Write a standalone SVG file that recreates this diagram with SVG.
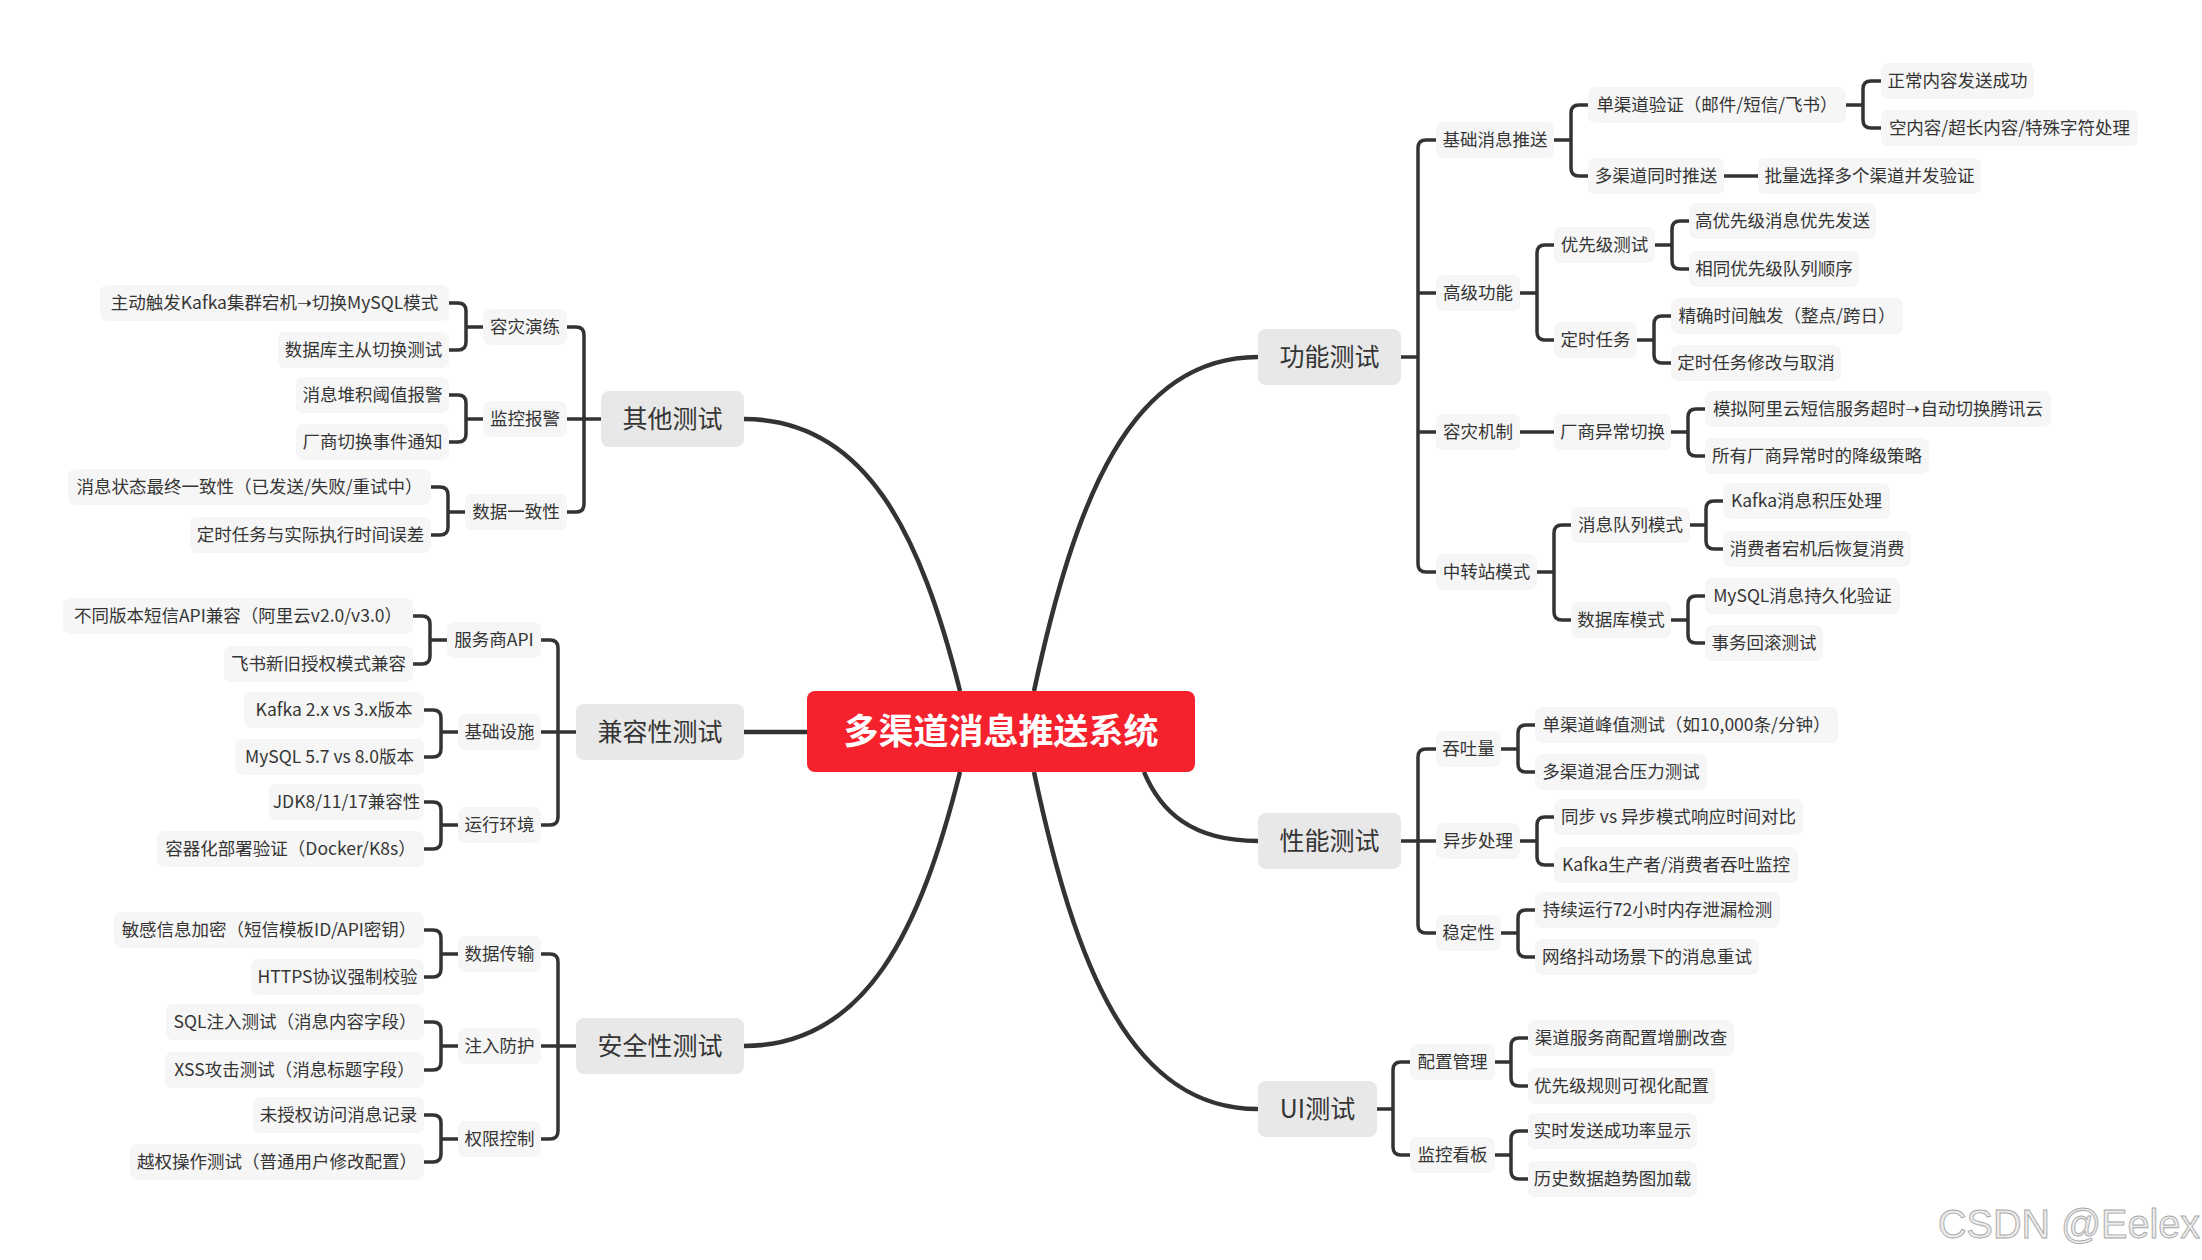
<svg xmlns="http://www.w3.org/2000/svg" width="2202" height="1260" viewBox="0 0 2202 1260">
<style>
text{font-family:"Noto Sans CJK SC","Noto Sans",sans-serif;fill:#353535;text-anchor:middle}
.s rect{fill:#f6f6f6}
.s text{font-size:17.5px}
.m rect{fill:#e8e8e8}
.m text{font-size:25px}
.r rect{fill:#f5222d}
.r text{font-size:35px;font-weight:700;fill:#fff}
#conn path{fill:none;stroke:#333;stroke-width:3.5;stroke-linecap:butt}
#conn path.k{stroke-width:4.5}
.wm{font-family:"Liberation Sans",Arial,sans-serif;font-size:40px;fill:#ececec;stroke:#a8a8a8;stroke-width:0.9;text-anchor:start}
</style>
<rect width="2202" height="1260" fill="#fff"/>
<g id="conn">
<path class="k" d="M1034,691 C1075,500 1130,357 1258,357"/>
<path class="k" d="M960,691 C921,536 867,419 744,419"/>
<path class="k" d="M1034,772 C1075,965 1130,1109 1258,1109"/>
<path class="k" d="M960,772 C921,928 867,1046 744,1046"/>
<path class="k" d="M1144,772 C1160,810 1190,841 1258,841"/>
<path class="k" d="M807,732 H744"/>
<path d="M1401,357 H1418"/>
<path d="M1436,140 H1426 Q1418,140 1418,148 V564 Q1418,572 1426,572 H1436"/>
<path d="M1418,293 H1436 M1418,432 H1436"/>
<path d="M1554,140 H1571 M1588,105 H1579 Q1571,105 1571,113 V168 Q1571,176 1579,176 H1588"/>
<path d="M1846,105 H1863 M1881,81 H1871 Q1863,81 1863,89 V120 Q1863,128 1871,128 H1881"/>
<path d="M1724,176 H1758"/>
<path d="M1520,293 H1537 M1554,245 H1545 Q1537,245 1537,253 V332 Q1537,340 1545,340 H1554"/>
<path d="M1655,245 H1672 M1689,221 H1680 Q1672,221 1672,229 V261 Q1672,269 1680,269 H1689"/>
<path d="M1637,340 H1654 M1671,316 H1662 Q1654,316 1654,324 V355 Q1654,363 1662,363 H1671"/>
<path d="M1520,432 H1554"/>
<path d="M1671,432 H1688 M1705,409 H1696 Q1688,409 1688,417 V448 Q1688,456 1696,456 H1705"/>
<path d="M1537,572 H1554 M1571,525 H1562 Q1554,525 1554,533 V612 Q1554,620 1562,620 H1571"/>
<path d="M1690,525 H1706 M1723,501 H1714 Q1706,501 1706,509 V541 Q1706,549 1714,549 H1723"/>
<path d="M1671,620 H1688 M1705,596 H1696 Q1688,596 1688,604 V635 Q1688,643 1696,643 H1705"/>
<path d="M1401,841 H1436 M1436,749 H1426 Q1418,749 1418,757 V925 Q1418,933 1426,933 H1436"/>
<path d="M1501,749 H1518 M1535,725 H1526 Q1518,725 1518,733 V764 Q1518,772 1526,772 H1535"/>
<path d="M1520,841 H1537 M1554,817 H1545 Q1537,817 1537,825 V857 Q1537,865 1545,865 H1554"/>
<path d="M1501,933 H1518 M1535,910 H1526 Q1518,910 1518,918 V949 Q1518,957 1526,957 H1535"/>
<path d="M1377,1109 H1393 M1410,1062 H1401 Q1393,1062 1393,1070 V1147 Q1393,1155 1401,1155 H1410"/>
<path d="M1495,1062 H1511 M1528,1038 H1519 Q1511,1038 1511,1046 V1078 Q1511,1086 1519,1086 H1528"/>
<path d="M1495,1155 H1511 M1528,1131 H1519 Q1511,1131 1511,1139 V1171 Q1511,1179 1519,1179 H1528"/>
<path d="M601,419 H567 M567,327 H576 Q584,327 584,335 V504 Q584,512 576,512 H567"/>
<path d="M483,327 H466 M449,303 H458 Q466,303 466,311 V342 Q466,350 458,350 H449"/>
<path d="M483,419 H466 M449,395 H458 Q466,395 466,403 V434 Q466,442 458,442 H449"/>
<path d="M465,512 H448 M431,487 H440 Q448,487 448,495 V527 Q448,535 440,535 H431"/>
<path d="M576,732 H541 M541,640 H550 Q558,640 558,648 V817 Q558,825 550,825 H541"/>
<path d="M447,640 H430 M413,616 H422 Q430,616 430,624 V656 Q430,664 422,664 H413"/>
<path d="M458,732 H441 M424,710 H433 Q441,710 441,718 V749 Q441,757 433,757 H424"/>
<path d="M458,825 H441 M424,802 H433 Q441,802 441,810 V841 Q441,849 433,849 H424"/>
<path d="M576,1046 H541 M541,954 H550 Q558,954 558,962 V1131 Q558,1139 550,1139 H541"/>
<path d="M458,954 H441 M424,930 H433 Q441,930 441,938 V969 Q441,977 433,977 H424"/>
<path d="M458,1046 H441 M424,1022 H433 Q441,1022 441,1030 V1062 Q441,1070 433,1070 H424"/>
<path d="M458,1139 H441 M424,1115 H433 Q441,1115 441,1123 V1154 Q441,1162 433,1162 H424"/>
</g>
<g id="root" class="r"><rect x="807" y="691" width="388" height="81" rx="8"/><text x="1001" y="744">多渠道消息推送系统</text></g>
<g id="m-func" class="m"><rect x="1258" y="329" width="143" height="56" rx="8"/><text x="1329.5" y="366">功能测试</text></g>
<g id="m-perf" class="m"><rect x="1258" y="813" width="143" height="56" rx="8"/><text x="1329.5" y="850">性能测试</text></g>
<g id="m-ui" class="m"><rect x="1258" y="1081" width="119" height="56" rx="8"/><text x="1317.5" y="1118">UI测试</text></g>
<g id="m-other" class="m"><rect x="601" y="391" width="143" height="56" rx="8"/><text x="672.5" y="428">其他测试</text></g>
<g id="m-compat" class="m"><rect x="576" y="704" width="168" height="56" rx="8"/><text x="660" y="741">兼容性测试</text></g>
<g id="m-sec" class="m"><rect x="576" y="1018" width="168" height="56" rx="8"/><text x="660" y="1055">安全性测试</text></g>
<g id="f1" class="s"><rect x="1436" y="122" width="118" height="36" rx="7"/><text x="1495" y="146">基础消息推送</text></g>
<g id="f1a" class="s"><rect x="1588" y="87" width="258" height="36" rx="7"/><text x="1717" y="111">单渠道验证（邮件/短信/飞书）</text></g>
<g id="f1a1" class="s"><rect x="1881" y="63" width="153" height="36" rx="7"/><text x="1957.5" y="87">正常内容发送成功</text></g>
<g id="f1a2" class="s"><rect x="1881" y="110" width="257" height="36" rx="7"/><text x="2009.5" y="134">空内容/超长内容/特殊字符处理</text></g>
<g id="f1b" class="s"><rect x="1588" y="158" width="136" height="36" rx="7"/><text x="1656" y="182">多渠道同时推送</text></g>
<g id="f1b1" class="s"><rect x="1758" y="158" width="223" height="36" rx="7"/><text x="1869.5" y="182">批量选择多个渠道并发验证</text></g>
<g id="f2" class="s"><rect x="1436" y="275" width="84" height="36" rx="7"/><text x="1478" y="299">高级功能</text></g>
<g id="f2a" class="s"><rect x="1554" y="227" width="101" height="36" rx="7"/><text x="1604.5" y="251">优先级测试</text></g>
<g id="f2a1" class="s"><rect x="1689" y="203" width="187" height="36" rx="7"/><text x="1782.5" y="227">高优先级消息优先发送</text></g>
<g id="f2a2" class="s"><rect x="1689" y="251" width="170" height="36" rx="7"/><text x="1774" y="275">相同优先级队列顺序</text></g>
<g id="f2b" class="s"><rect x="1554" y="322" width="83" height="36" rx="7"/><text x="1595.5" y="346">定时任务</text></g>
<g id="f2b1" class="s"><rect x="1671" y="298" width="232" height="36" rx="7"/><text x="1787" y="322">精确时间触发（整点/跨日）</text></g>
<g id="f2b2" class="s"><rect x="1671" y="345" width="170" height="36" rx="7"/><text x="1756" y="369">定时任务修改与取消</text></g>
<g id="f3" class="s"><rect x="1436" y="414" width="84" height="36" rx="7"/><text x="1478" y="438">容灾机制</text></g>
<g id="f3a" class="s"><rect x="1554" y="414" width="117" height="36" rx="7"/><text x="1612.5" y="438">厂商异常切换</text></g>
<g id="f3a1" class="s"><rect x="1705" y="391" width="346" height="36" rx="7"/><text x="1878" y="415">模拟阿里云短信服务超时➝自动切换腾讯云</text></g>
<g id="f3a2" class="s"><rect x="1705" y="438" width="224" height="36" rx="7"/><text x="1817" y="462">所有厂商异常时的降级策略</text></g>
<g id="f4" class="s"><rect x="1436" y="554" width="101" height="36" rx="7"/><text x="1486.5" y="578">中转站模式</text></g>
<g id="f4a" class="s"><rect x="1571" y="507" width="119" height="36" rx="7"/><text x="1630.5" y="531">消息队列模式</text></g>
<g id="f4a1" class="s"><rect x="1723" y="483" width="167" height="36" rx="7"/><text x="1806.5" y="507">Kafka消息积压处理</text></g>
<g id="f4a2" class="s"><rect x="1723" y="531" width="188" height="36" rx="7"/><text x="1817" y="555">消费者宕机后恢复消费</text></g>
<g id="f4b" class="s"><rect x="1571" y="602" width="100" height="36" rx="7"/><text x="1621" y="626">数据库模式</text></g>
<g id="f4b1" class="s"><rect x="1705" y="578" width="195" height="36" rx="7"/><text x="1802.5" y="602">MySQL消息持久化验证</text></g>
<g id="f4b2" class="s"><rect x="1705" y="625" width="118" height="36" rx="7"/><text x="1764" y="649">事务回滚测试</text></g>
<g id="p1" class="s"><rect x="1436" y="731" width="65" height="36" rx="7"/><text x="1468.5" y="755">吞吐量</text></g>
<g id="p1a" class="s"><rect x="1535" y="707" width="303" height="36" rx="7"/><text x="1686.5" y="731">单渠道峰值测试（如10,000条/分钟）</text></g>
<g id="p1b" class="s"><rect x="1535" y="754" width="172" height="36" rx="7"/><text x="1621" y="778">多渠道混合压力测试</text></g>
<g id="p2" class="s"><rect x="1436" y="823" width="84" height="36" rx="7"/><text x="1478" y="847">异步处理</text></g>
<g id="p2a" class="s"><rect x="1554" y="799" width="249" height="36" rx="7"/><text x="1678.5" y="823">同步 vs 异步模式响应时间对比</text></g>
<g id="p2b" class="s"><rect x="1554" y="847" width="244" height="36" rx="7"/><text x="1676" y="871">Kafka生产者/消费者吞吐监控</text></g>
<g id="p3" class="s"><rect x="1436" y="915" width="65" height="36" rx="7"/><text x="1468.5" y="939">稳定性</text></g>
<g id="p3a" class="s"><rect x="1535" y="892" width="245" height="36" rx="7"/><text x="1657.5" y="916">持续运行72小时内存泄漏检测</text></g>
<g id="p3b" class="s"><rect x="1535" y="939" width="224" height="36" rx="7"/><text x="1647" y="963">网络抖动场景下的消息重试</text></g>
<g id="u1" class="s"><rect x="1410" y="1044" width="85" height="36" rx="7"/><text x="1452.5" y="1068">配置管理</text></g>
<g id="u1a" class="s"><rect x="1528" y="1020" width="206" height="36" rx="7"/><text x="1631" y="1044">渠道服务商配置增删改查</text></g>
<g id="u1b" class="s"><rect x="1528" y="1068" width="187" height="36" rx="7"/><text x="1621.5" y="1092">优先级规则可视化配置</text></g>
<g id="u2" class="s"><rect x="1410" y="1137" width="85" height="36" rx="7"/><text x="1452.5" y="1161">监控看板</text></g>
<g id="u2a" class="s"><rect x="1528" y="1113" width="169" height="36" rx="7"/><text x="1612.5" y="1137">实时发送成功率显示</text></g>
<g id="u2b" class="s"><rect x="1528" y="1161" width="169" height="36" rx="7"/><text x="1612.5" y="1185">历史数据趋势图加载</text></g>
<g id="o1" class="s"><rect x="483" y="309" width="84" height="36" rx="7"/><text x="525" y="333">容灾演练</text></g>
<g id="o1a" class="s"><rect x="100" y="285" width="349" height="36" rx="7"/><text x="274.5" y="309">主动触发Kafka集群宕机➝切换MySQL模式</text></g>
<g id="o1b" class="s"><rect x="278" y="332" width="171" height="36" rx="7"/><text x="363.5" y="356">数据库主从切换测试</text></g>
<g id="o2" class="s"><rect x="483" y="401" width="84" height="36" rx="7"/><text x="525" y="425">监控报警</text></g>
<g id="o2a" class="s"><rect x="296" y="377" width="153" height="36" rx="7"/><text x="372.5" y="401">消息堆积阈值报警</text></g>
<g id="o2b" class="s"><rect x="296" y="424" width="153" height="36" rx="7"/><text x="372.5" y="448">厂商切换事件通知</text></g>
<g id="o3" class="s"><rect x="465" y="494" width="102" height="36" rx="7"/><text x="516" y="518">数据一致性</text></g>
<g id="o3a" class="s"><rect x="68" y="469" width="363" height="36" rx="7"/><text x="249.5" y="493">消息状态最终一致性（已发送/失败/重试中）</text></g>
<g id="o3b" class="s"><rect x="190" y="517" width="241" height="36" rx="7"/><text x="310.5" y="541">定时任务与实际执行时间误差</text></g>
<g id="c1" class="s"><rect x="447" y="622" width="94" height="36" rx="7"/><text x="494" y="646">服务商API</text></g>
<g id="c1a" class="s"><rect x="63" y="598" width="350" height="36" rx="7"/><text x="238" y="622">不同版本短信API兼容（阿里云v2.0/v3.0）</text></g>
<g id="c1b" class="s"><rect x="224" y="646" width="189" height="36" rx="7"/><text x="318.5" y="670">飞书新旧授权模式兼容</text></g>
<g id="c2" class="s"><rect x="458" y="714" width="83" height="36" rx="7"/><text x="499.5" y="738">基础设施</text></g>
<g id="c2a" class="s"><rect x="244" y="692" width="180" height="36" rx="7"/><text x="334" y="716">Kafka 2.x vs 3.x版本</text></g>
<g id="c2b" class="s"><rect x="235" y="739" width="189" height="36" rx="7"/><text x="329.5" y="763">MySQL 5.7 vs 8.0版本</text></g>
<g id="c3" class="s"><rect x="458" y="807" width="83" height="36" rx="7"/><text x="499.5" y="831">运行环境</text></g>
<g id="c3a" class="s"><rect x="269" y="784" width="155" height="36" rx="7"/><text x="346.5" y="808">JDK8/11/17兼容性</text></g>
<g id="c3b" class="s"><rect x="157" y="831" width="267" height="36" rx="7"/><text x="290.5" y="855">容器化部署验证（Docker/K8s）</text></g>
<g id="s1" class="s"><rect x="458" y="936" width="83" height="36" rx="7"/><text x="499.5" y="960">数据传输</text></g>
<g id="s1a" class="s"><rect x="114" y="912" width="310" height="36" rx="7"/><text x="269" y="936">敏感信息加密（短信模板ID/API密钥）</text></g>
<g id="s1b" class="s"><rect x="251" y="959" width="173" height="36" rx="7"/><text x="337.5" y="983">HTTPS协议强制校验</text></g>
<g id="s2" class="s"><rect x="458" y="1028" width="83" height="36" rx="7"/><text x="499.5" y="1052">注入防护</text></g>
<g id="s2a" class="s"><rect x="166" y="1004" width="258" height="36" rx="7"/><text x="295" y="1028">SQL注入测试（消息内容字段）</text></g>
<g id="s2b" class="s"><rect x="165" y="1052" width="259" height="36" rx="7"/><text x="294.5" y="1076">XSS攻击测试（消息标题字段）</text></g>
<g id="s3" class="s"><rect x="458" y="1121" width="83" height="36" rx="7"/><text x="499.5" y="1145">权限控制</text></g>
<g id="s3a" class="s"><rect x="253" y="1097" width="171" height="36" rx="7"/><text x="338.5" y="1121">未授权访问消息记录</text></g>
<g id="s3b" class="s"><rect x="130" y="1144" width="294" height="36" rx="7"/><text x="277" y="1168">越权操作测试（普通用户修改配置）</text></g>
<text class="wm" x="1938" y="1238" textLength="262" lengthAdjust="spacingAndGlyphs">CSDN @Eelex</text>
</svg>
